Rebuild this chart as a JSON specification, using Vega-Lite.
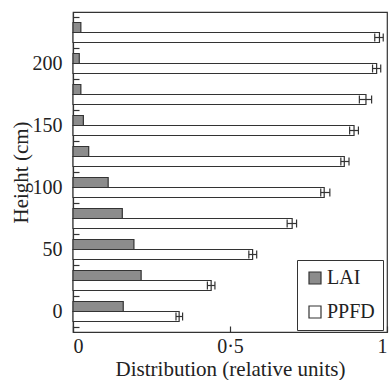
{
  "$schema": "https://vega.github.io/schema/vega-lite/v6.json",
  "autosize": {"type": "none"},
  "padding": {"left": 73, "top": 12, "right": 3, "bottom": 48},
  "width": 314,
  "height": 320,
  "background": "white",
  "config": {
    "font": "Liberation Serif",
    "view": {"stroke": "#333", "strokeWidth": 1.2},
    "axis": {
      "domainColor": "#333", "domainWidth": 1.2,
      "tickColor": "#333", "tickWidth": 1.2,
      "labelColor": "#222", "titleColor": "#222",
      "labelFont": "Liberation Serif", "titleFont": "Liberation Serif",
      "labelFontSize": 20, "titleFontSize": 21, "titleFontWeight": "normal",
      "grid": false
    },
    "legend": {
      "labelFont": "Liberation Serif", "labelFontSize": 20, "labelColor": "#222"
    }
  },
  "data": {
    "values": [
      {"height": 0, "series": "LAI", "value": 0.16},
      {"height": 25, "series": "LAI", "value": 0.217},
      {"height": 50, "series": "LAI", "value": 0.194},
      {"height": 75, "series": "LAI", "value": 0.157},
      {"height": 100, "series": "LAI", "value": 0.112},
      {"height": 125, "series": "LAI", "value": 0.05},
      {"height": 150, "series": "LAI", "value": 0.033},
      {"height": 175, "series": "LAI", "value": 0.025},
      {"height": 200, "series": "LAI", "value": 0.02},
      {"height": 225, "series": "LAI", "value": 0.025},
      {"height": 0, "series": "PPFD", "value": 0.338, "lo": 0.328, "hi": 0.349},
      {"height": 25, "series": "PPFD", "value": 0.44, "lo": 0.428, "hi": 0.452},
      {"height": 50, "series": "PPFD", "value": 0.572, "lo": 0.56, "hi": 0.585},
      {"height": 75, "series": "PPFD", "value": 0.698, "lo": 0.682, "hi": 0.712},
      {"height": 100, "series": "PPFD", "value": 0.8, "lo": 0.789, "hi": 0.818},
      {"height": 125, "series": "PPFD", "value": 0.864, "lo": 0.853, "hi": 0.879},
      {"height": 150, "series": "PPFD", "value": 0.895, "lo": 0.881, "hi": 0.909},
      {"height": 175, "series": "PPFD", "value": 0.933, "lo": 0.912, "hi": 0.951},
      {"height": 200, "series": "PPFD", "value": 0.967, "lo": 0.954, "hi": 0.98},
      {"height": 225, "series": "PPFD", "value": 0.976, "lo": 0.961, "hi": 0.988}
    ]
  },
  "encoding": {
    "y": {
      "field": "height", "type": "quantitative",
      "scale": {"domain": [-12.5, 237.5], "nice": false, "zero": false},
      "axis": {
        "title": "Height (cm)",
        "values": [-12.5, 0, 12.5, 37.5, 50, 62.5, 87.5, 100, 112.5, 137.5, 150, 162.5, 187.5, 200, 212.5, 237.5],
        "labelExpr": "datum.value % 50 === 0 ? datum.label : ''",
        "tickSize": -6,
        "tickOpacity": {"condition": {"test": "datum.value % 50 === 0", "value": 0}, "value": 1},
        "labelPadding": 17,
        "titleX": -46,
        "titleBaseline": "alphabetic"
      }
    }
  },
  "layer": [
    {
      "transform": [{"filter": "datum.series === 'LAI'"}],
      "mark": {"type": "bar", "orient": "horizontal", "size": 10, "yOffset": -5, "stroke": "#333", "strokeWidth": 1.2},
      "encoding": {
        "x": {
          "field": "value", "type": "quantitative",
          "scale": {"domain": [0, 1], "nice": false},
          "axis": {
            "title": "Distribution (relative units)",
            "values": [0, 0.5, 1],
            "labelExpr": "datum.value === 0 ? '0' : datum.value === 1 ? '1' : '0·5'",
            "tickSize": -6,
            "labelPadding": 10.5,
            "titleY": 43.5,
            "titleBaseline": "alphabetic"
          }
        },
        "fill": {
          "field": "series", "type": "nominal",
          "scale": {"domain": ["LAI", "PPFD"], "range": ["#8c8c8c", "#ffffff"]},
          "legend": {
            "title": null, "orient": "none", "legendX": 224, "legendY": 248,
            "strokeColor": "#333", "padding": 8,
            "symbolType": "square", "symbolSize": 144, "symbolStrokeColor": "#333", "symbolStrokeWidth": 1.2,
            "labelOffset": 2, "rowPadding": 14
          }
        }
      }
    },
    {
      "transform": [{"filter": "datum.series === 'PPFD'"}],
      "mark": {"type": "bar", "orient": "horizontal", "size": 10, "yOffset": 5, "stroke": "#333", "strokeWidth": 1.2},
      "encoding": {
        "x": {"field": "value", "type": "quantitative"},
        "fill": {"field": "series", "type": "nominal"}
      }
    },
    {
      "transform": [{"filter": "datum.series === 'PPFD'"}],
      "mark": {"type": "rule", "yOffset": 5, "stroke": "#333", "strokeWidth": 1.2},
      "encoding": {
        "x": {"field": "lo", "type": "quantitative"},
        "x2": {"field": "hi"}
      }
    },
    {
      "transform": [{"filter": "datum.series === 'PPFD'"}],
      "mark": {"type": "tick", "orient": "vertical", "size": 8, "thickness": 1.2, "yOffset": 5, "color": "#333", "opacity": 1},
      "encoding": {
        "x": {"field": "lo", "type": "quantitative"}
      }
    },
    {
      "transform": [{"filter": "datum.series === 'PPFD'"}],
      "mark": {"type": "tick", "orient": "vertical", "size": 8, "thickness": 1.2, "yOffset": 5, "color": "#333", "opacity": 1},
      "encoding": {
        "x": {"field": "hi", "type": "quantitative"}
      }
    }
  ]
}
